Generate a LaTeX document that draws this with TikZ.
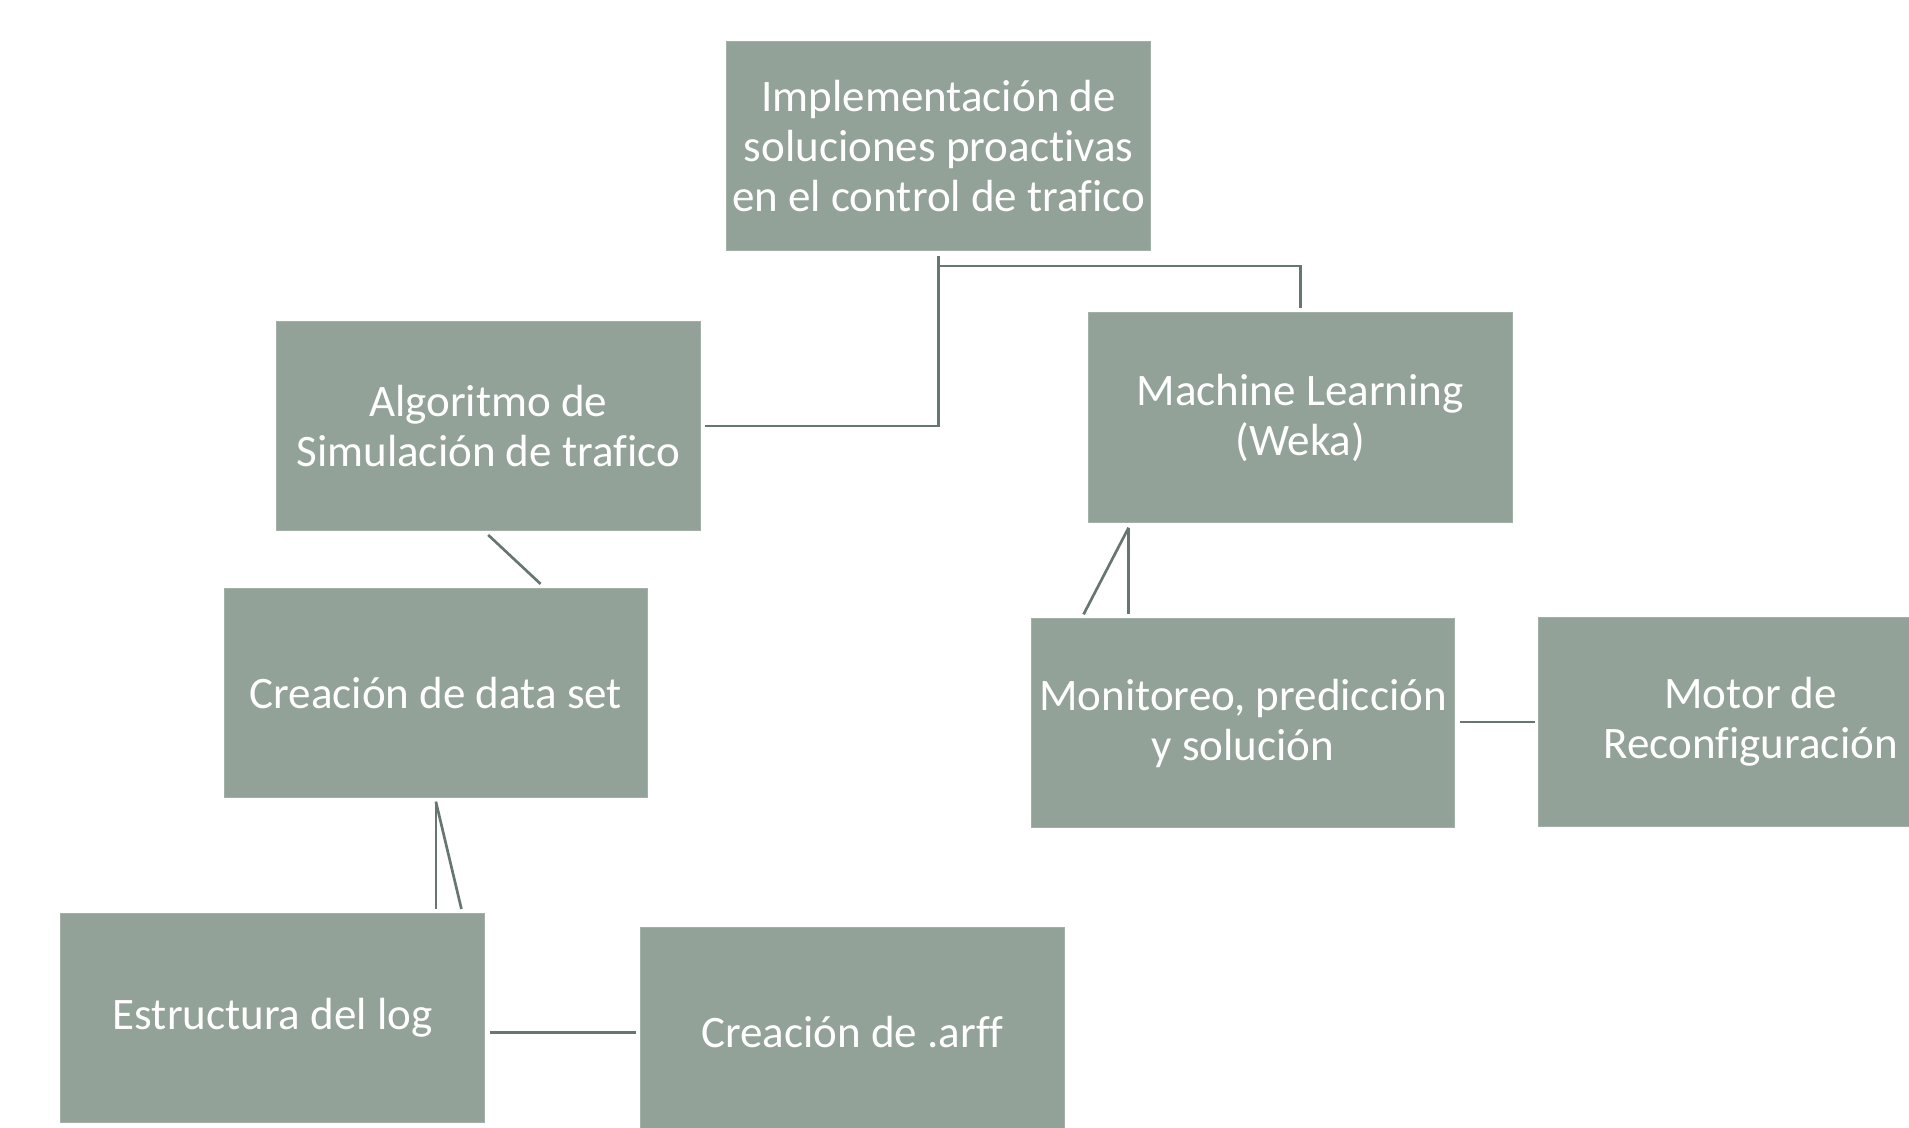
\documentclass[tikz,border=0pt]{standalone}
\usepackage{fontspec}
\setmainfont{Carlito}[Ligatures=NoCommon]
\definecolor{boxfill}{RGB}{147,162,152}
\definecolor{linec}{RGB}{104,118,112}
\begin{document}
\begin{tikzpicture}[x=1pt,y=-1pt,
  box/.style={rectangle, fill=boxfill, draw=boxfill!85!white, line width=0.8pt, minimum width=348pt, minimum height=172pt, inner sep=0pt, align=center, text=white, font=\fontsize{37}{41}\selectfont},
  conn/.style={draw=linec, line width=2.2pt}]
\fill[white] (0,0) rectangle (1568,926);
\useasboundingbox (0,0) rectangle (1568,926);
\clip (0,0) rectangle (1568,926);
\node[box] (top) at (771,120) {Implementación de\\soluciones proactivas\\en el control de trafico};
\node[box] (alg) at (401,350) {Algoritmo de\\Simulación de trafico};
\node[box] (ml) at (1068,343) {Machine Learning\\(Weka)};
\node[box] (ds) at (358,569) {Creación de data set};
\node[box] (mon) at (1021,594) {Monitoreo, predicción\\y solución};
\node[box] (mot) at (1438,593) {Motor de\\Reconfiguración};
\node[box] (est) at (224,836) {Estructura del log};
\node[box] (arff) at (700,848) {Creación de .arff};
\draw[conn] ([yshift=-4pt]top.south) |- ([xshift=4pt]alg.east);
\draw[conn] ([yshift=-12pt]top.south) -| ([yshift=4pt]ml.north);
\draw[conn] ([yshift=-3pt]alg.south) -- ([xshift=86pt,yshift=3pt]ds.north);
\draw[conn] ([xshift=-141pt,yshift=-4pt]ml.south) -- ([xshift=-131pt,yshift=3pt]mon.north);
\draw[conn] ([xshift=-141pt,yshift=-4pt]ml.south) -- ([xshift=-94pt,yshift=3pt]mon.north);
\draw[conn] ([yshift=-3pt]ds.south) -- ([xshift=134pt,yshift=3pt]est.north);
\draw[conn] ([yshift=-3pt]ds.south) -- ([xshift=155pt,yshift=3pt]est.north);
\draw[conn] ([xshift=4pt]mon.east |- mot.west) -- ([xshift=-3pt]mot.west);
\draw[conn] ([xshift=4pt]est.east |- arff.west) -- ([xshift=-3pt]arff.west);
\end{tikzpicture}
\end{document}
